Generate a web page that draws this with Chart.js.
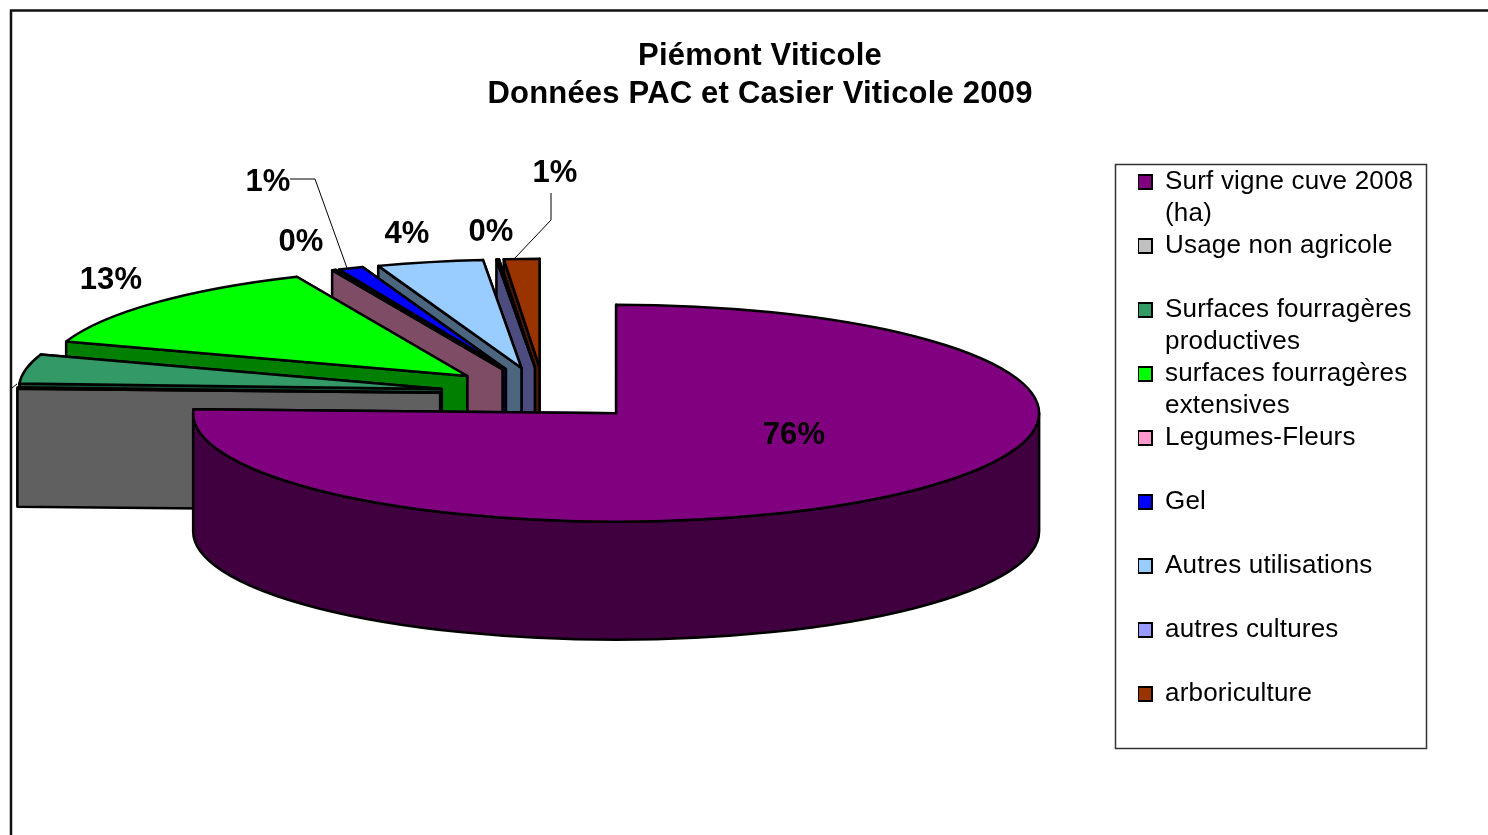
<!DOCTYPE html>
<html>
<head>
<meta charset="utf-8">
<title>Piémont Viticole</title>
<script src="https://cdn.jsdelivr.net/npm/chart.js@4"></script>
<style>
    html, body { margin: 0; padding: 0; background: #fff; overflow: hidden; }
    canvas { display: block; }
</style>
</head>
<body>
<canvas id="myChart" width="1488" height="835"></canvas>
<script>
const titleLines = ['Piémont Viticole', 'Données PAC et Casier Viticole 2009'];
const categories = ['Surf vigne cuve 2008 (ha)', 'Usage non agricole', 'Surfaces fourragères productives',
    'surfaces fourragères extensives', 'Legumes-Fleurs', 'Gel', 'Autres utilisations', 'autres cultures', 'arboriculture'];
const legendLines = [['Surf vigne cuve 2008', '(ha)'], ['Usage non agricole', ' '], ['Surfaces fourragères', 'productives'],
    ['surfaces fourragères', 'extensives'], ['Legumes-Fleurs', ' '], ['Gel', ' '], ['Autres utilisations', ' '],
    ['autres cultures', ' '], ['arboriculture', ' ']];
const shares = [75.6, 0.2, 4.35, 13.25, 0.15, 0.95, 4.05, 0.1, 1.35];
const COLORS = ['#800080', '#C0C0C0', '#339966', '#00FF00', '#FF99CC', '#0000FF', '#99CCFF', '#9999FF', '#993300'];

// where the percent labels sit, null = off the picture in the original too
const labelPos = [[794, 435], null, null, [111, 280], [301, 242], [268, 182], [407, 234], [491, 232], [555, 173]];
const leaderLines = [
    [[290, 179], [315, 179], [347, 268]],
    [[551, 193], [551, 220], [515, 258]],
    [[12, 388], [17, 384]]
];

const SQUASH = 0.2565;
const DEPTH = 118;
const EXPLODE = 104;
const FONT = '"Liberation Sans", Arial, sans-serif';

function darken(hex) {
    const n = parseInt(hex.slice(1), 16);
    return `rgb(${(n >> 16) >> 1}, ${((n >> 8) & 255) >> 1}, ${(n & 255) >> 1})`;
}

function paint(ctx, fill) {
    ctx.fillStyle = fill;
    ctx.fill();
    ctx.stroke();
}

// one radial wall of an exploded slice
function drawWall(ctx, x, y, rx, ry, angle, fill) {
    const ex = x + Math.cos(angle) * rx;
    const ey = y + Math.sin(angle) * ry;
    ctx.beginPath();
    ctx.moveTo(x, y);
    ctx.lineTo(ex, ey);
    ctx.lineTo(ex, ey + DEPTH);
    ctx.lineTo(x, y + DEPTH);
    ctx.closePath();
    paint(ctx, fill);
}

function drawSlice(ctx, arc, color) {
    const mid = (arc.startAngle + arc.endAngle) / 2;
    const x = arc.x + Math.cos(mid) * EXPLODE;
    const y = arc.y + Math.sin(mid) * EXPLODE * SQUASH;
    const rx = arc.outerRadius;
    const ry = rx * SQUASH;
    const side = darken(color);

    drawWall(ctx, x, y, rx, ry, arc.endAngle, side);
    drawWall(ctx, x, y, rx, ry, arc.startAngle, side);

    // rim, only the part of the arc that faces the viewer
    const from = Math.max(arc.startAngle, 0);
    const to = Math.min(arc.endAngle, Math.PI);
    if (to > from) {
        ctx.beginPath();
        ctx.ellipse(x, y, rx, ry, 0, from, to);
        ctx.ellipse(x, y + DEPTH, rx, ry, 0, to, from, true);
        ctx.closePath();
        paint(ctx, side);
    }

    ctx.beginPath();
    ctx.moveTo(x, y);
    ctx.ellipse(x, y, rx, ry, 0, arc.startAngle, arc.endAngle);
    ctx.closePath();
    paint(ctx, color);
}

const pie3d = {
    id: 'pie3d',
    beforeDraw(chart) {
        const ctx = chart.ctx;
        ctx.save();
        ctx.fillStyle = '#fff';
        ctx.fillRect(0, 0, chart.width, chart.height);
        ctx.strokeStyle = '#111';
        ctx.lineWidth = 2.5;
        ctx.strokeRect(11, 10.5, chart.width + 20, chart.height + 20);
        ctx.lineWidth = 1.5;
        ctx.strokeStyle = '#333';
        ctx.strokeRect(1115.5, 164.5, 311, 584);
        ctx.restore();
        ctx.letterSpacing = '0.2px';
    },
    afterLayout(chart) {
        chart.titleBlock.left = 32;
        chart.titleBlock.right = 1488;
        chart.titleBlock.top = 37;
        chart.legend.left = 1138;
        chart.legend.right = 1425;
        chart.legend.top = 167;
        chart.legend.bottom = 747;
    },
    beforeDatasetDraw() {
        return false;
    },
    beforeDatasetsDraw(chart) {
        const ctx = chart.ctx;
        const arcs = chart.getDatasetMeta(0).data;
        ctx.save();
        ctx.strokeStyle = '#000';
        ctx.lineWidth = 2.5;
        ctx.lineJoin = 'round';
        for (let i = arcs.length - 1; i >= 0; i--) {
            drawSlice(ctx, arcs[i], COLORS[i]);
        }
        ctx.lineWidth = 1;
        leaderLines.forEach(line => {
            ctx.beginPath();
            line.forEach((p, j) => j ? ctx.lineTo(p[0], p[1]) : ctx.moveTo(p[0], p[1]));
            ctx.stroke();
        });
        ctx.fillStyle = '#000';
        ctx.font = 'bold 31px ' + FONT;
        ctx.textAlign = 'center';
        ctx.textBaseline = 'middle';
        labelPos.forEach((p, i) => {
            if (p) ctx.fillText(Math.round(shares[i]) + '%', p[0], p[1]);
        });
        ctx.restore();
    }
};

new Chart(document.getElementById('myChart'), {
    type: 'pie',
    data: {
        labels: categories,
        datasets: [{ data: shares, backgroundColor: COLORS, borderWidth: 0, radius: 423 }]
    },
    plugins: [pie3d],
    options: {
        responsive: false,
        animation: false,
        // chart area centred on the un-exploded pie centre
        layout: { padding: { left: 0, right: 400, top: 0, bottom: 123 } },
        plugins: {
            tooltip: { enabled: false },
            title: {
                display: true,
                text: titleLines,
                color: '#000',
                padding: 0,
                font: { family: FONT, size: 31, weight: 'bold', lineHeight: 38 / 31 }
            },
            legend: {
                position: 'chartArea',
                labels: {
                    boxWidth: 14,
                    boxHeight: 14,
                    padding: 0,
                    color: '#000',
                    font: { family: FONT, size: 26, lineHeight: 32 / 26 },
                    generateLabels() {
                        return legendLines.map((text, i) => ({
                            text: text,
                            fillStyle: COLORS[i],
                            strokeStyle: '#000',
                            lineWidth: 2,
                            index: i
                        }));
                    }
                }
            }
        }
    }
});
</script>
</body>
</html>
